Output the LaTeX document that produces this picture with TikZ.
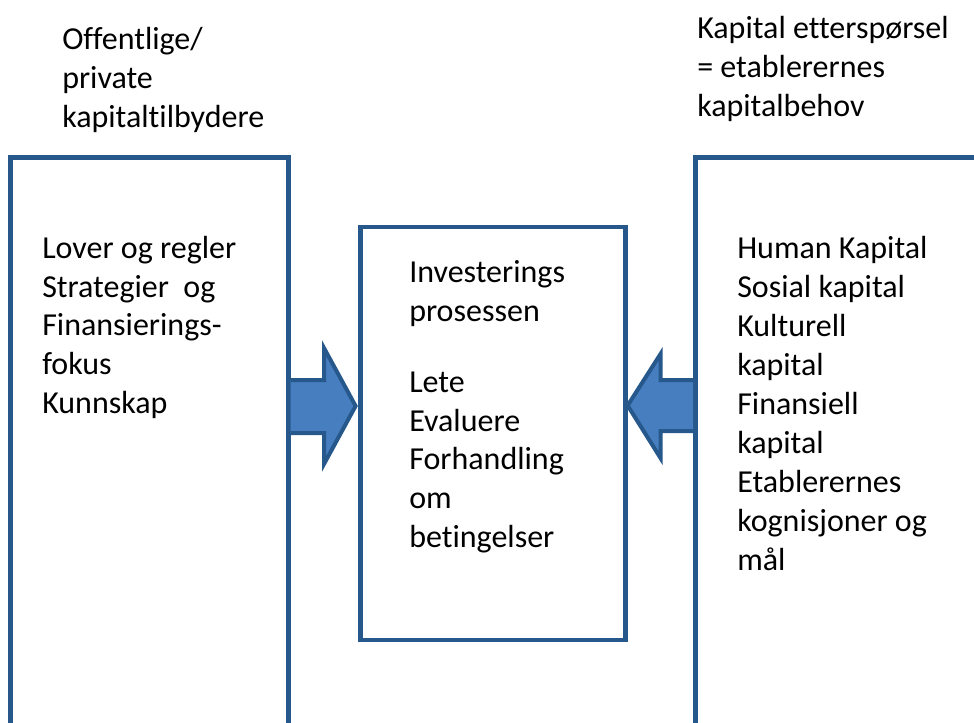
\documentclass[tikz,border=0pt]{standalone}
\usepackage{fontspec}
\setmainfont{Carlito}[Ligatures=NoCommon]
\usetikzlibrary{calc}
\definecolor{kant}{RGB}{38,88,140}
\definecolor{pilfyll}{RGB}{70,126,192}
\begin{document}
\begin{tikzpicture}[x=0.75pt,y=-0.75pt,
boks/.style={draw=kant,line width=3.4pt,rectangle,inner sep=0pt,anchor=north west},
tekst/.style={anchor=base west,align=left,inner sep=0pt,font=\fontsize{24}{28.9}\selectfont},
pil/.style={draw=kant,fill=pilfyll,line width=3pt,line join=miter}]
\useasboundingbox (0,0) rectangle (974,722);
\clip (0,0) rectangle (974,722);
\node[boks,minimum width=208.5pt,minimum height=480pt] (tilbud) at (8.2,155.2) {};
\node[boks,minimum width=198.75pt,minimum height=309.75pt] (prosess) at (358.1,224.7) {};
\node[boks,minimum width=220pt,minimum height=480pt] (etterspor) at (693.2,155.2) {};
\node[tekst] (tilbydere) at (62,127) {Offentlige/\\private\\kapitaltilbydere};
\node[tekst] (behov) at (697,116) {Kapital etterspørsel\\= etablerernes\\kapitalbehov};
\node[tekst] (tilbudtekst) at (42,413) {Lover og regler\\Strategier~ og\\Finansierings-\\fokus\\Kunnskap};
\node[tekst] (prosesstekst) at (409,547) {Investerings\\prosessen\\[24.75pt]Lete\\Evaluere\\Forhandling\\om\\betingelser};
\node[tekst,font=\fontsize{24}{29.25}\selectfont] (ettersportekst) at (737,570) {Human Kapital\\Sosial kapital\\Kulturell\\kapital\\Finansiell\\kapital\\Etablerernes\\kognisjoner og\\mål};
\draw[pil] (tilbud.east |- 0,380) -- (324,380) -- (324,348) -- ($(prosess.west |- 0,406)+(-2.5,0)$)
  -- (324,464) -- (324,433) -- (tilbud.east |- 0,433);
\draw[pil] (etterspor.west |- 0,380) -- (660.5,380) -- (660.5,354) -- (prosess.east |- 0,405.5)
  -- (660.5,458) -- (660.5,431) -- (etterspor.west |- 0,431);
\end{tikzpicture}
\end{document}
